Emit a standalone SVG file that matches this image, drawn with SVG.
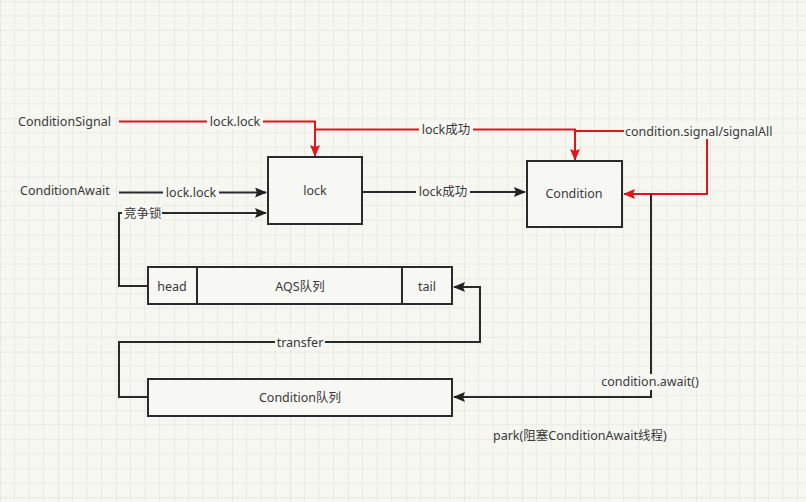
<svg xmlns="http://www.w3.org/2000/svg" width="806" height="502" viewBox="0 0 806 502">
<defs>
<pattern id="grid" x="0" y="1.3" width="58" height="58.4" patternUnits="userSpaceOnUse">
<path d="M14.5 0V58.4M29 0V58.4M43.5 0V58.4M0 14.6H58M0 29.2H58M0 43.8H58" stroke="#ebebe5" stroke-width="1" fill="none"/>
<path d="M0 0V58.4M0 0H58" stroke="#dededa" stroke-width="1.2" fill="none"/>
</pattern>
<marker id="ab" viewBox="0 0 12 10" refX="11" refY="5" markerWidth="12" markerHeight="10" orient="auto" markerUnits="userSpaceOnUse">
<path d="M0 0L12 5L0 10L2 5Z" fill="#222"/>
</marker>
<marker id="ar" viewBox="0 0 12 10" refX="11" refY="5" markerWidth="12" markerHeight="10" orient="auto" markerUnits="userSpaceOnUse">
<path d="M0 0L12 5L0 10L2 5Z" fill="#e3141b"/>
</marker>
<style>
text{font-family:"Noto Sans","Noto Sans CJK SC",sans-serif;font-size:12.5px;fill:#3a3a3a}
.box{fill:#f7f7f3;stroke:#2a2a2a;stroke-width:2}
.bl{fill:none;stroke:#2a2a2a;stroke-width:2}
.rd{fill:none;stroke:#e3141b;stroke-width:2}
.lbl{fill:#f7f7f3}
.mid{text-anchor:middle}
</style>
</defs>
<rect width="806" height="502" fill="#f7f7f2"/>
<rect width="806" height="502" fill="url(#grid)"/>

<g id="edges">
<path class="rd" d="M119 121.5H315V156" marker-end="url(#ar)"/>
<path class="rd" d="M315 129.5H575V160" marker-end="url(#ar)"/>
<path class="rd" d="M575 131H707V194H624" marker-end="url(#ar)"/>
<path class="bl" d="M119 192.5H266" marker-end="url(#ab)"/>
<path class="bl" d="M148 286H119V213H266" marker-end="url(#ab)"/>
<path class="bl" d="M363 192H525" marker-end="url(#ab)"/>
<path class="bl" d="M148 397H119V342H480V287H454" marker-end="url(#ab)"/>
<path class="bl" d="M651 194V397H454" marker-end="url(#ab)"/>
<rect class="lbl" x="207" y="113" width="56" height="16"/>
<text class="mid" x="235" y="126">lock.lock</text>
<rect class="lbl" x="419" y="121" width="54" height="16"/>
<text class="mid" x="446" y="134">lock成功</text>
<rect class="lbl" x="624" y="123" width="148" height="16"/>
<text x="625" y="136">condition.signal/signalAll</text>
<rect class="lbl" x="163" y="185" width="56" height="16"/>
<text class="mid" x="191" y="197">lock.lock</text>
<rect class="lbl" x="122" y="205" width="40" height="16"/>
<text x="124" y="218">竞争锁</text>
<rect class="lbl" x="416" y="184" width="54" height="16"/>
<text class="mid" x="443" y="196">lock成功</text>
<rect class="lbl" x="275" y="334" width="50" height="16"/>
<text class="mid" x="300" y="346.5">transfer</text>
<rect class="lbl" x="600" y="374" width="102" height="16"/>
<text class="mid" x="650" y="386">condition.await()</text>
</g>

<g id="ConditionSignal"><text x="18" y="126">ConditionSignal</text></g>
<g id="ConditionAwait"><text x="20" y="195">ConditionAwait</text></g>
<g id="lock">
<rect class="box" x="268" y="157" width="94" height="67"/>
<text class="mid" x="315" y="195">lock</text>
</g>
<g id="Condition">
<rect class="box" x="527" y="161" width="95" height="66"/>
<text class="mid" x="574" y="198">Condition</text>
</g>
<g id="AQS">
<rect class="box" x="148" y="267" width="304" height="37"/>
<path class="bl" d="M197 267V304M402 267V304"/>
<text class="mid" x="172" y="291">head</text>
<text class="mid" x="300" y="291">AQS队列</text>
<text class="mid" x="427" y="291">tail</text>
</g>
<g id="ConditionQueue">
<rect class="box" x="148" y="379" width="304" height="37"/>
<text class="mid" x="300" y="402">Condition队列</text>
</g>
<g id="park"><text x="493" y="440">park(阻塞ConditionAwait线程)</text></g>
</svg>
